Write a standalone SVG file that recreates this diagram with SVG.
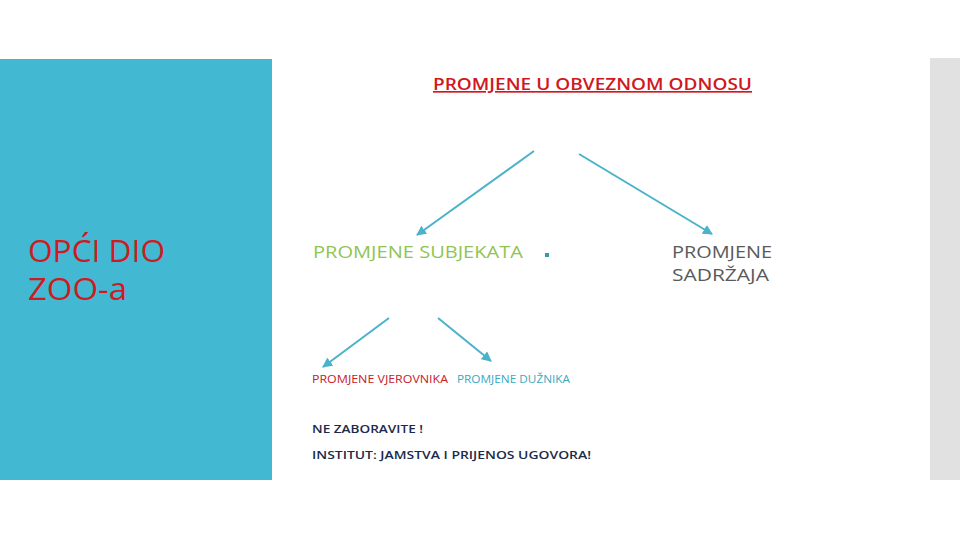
<svg xmlns="http://www.w3.org/2000/svg" width="960" height="540" viewBox="0 0 960 540">
  <defs>
    <style>
      text { font-family: "Open Sans", "Liberation Sans", sans-serif; }
      .conn { stroke: #4ab3c9; stroke-width: 2; fill: none; marker-end: url(#arrow); }
    </style>
    <marker id="arrow" viewBox="0 0 10 10" refX="9" refY="5" markerWidth="5" markerHeight="5" orient="auto" markerUnits="strokeWidth">
      <path d="M0,0 L10,5 L0,10 z" fill="#4ab3c9"/>
    </marker>
  </defs>
  <rect width="960" height="540" fill="#ffffff"/>
  <rect id="panel" x="0" y="59" width="272" height="421" fill="#42b8d2"/>
  <rect id="sidebar" x="930" y="58" width="30" height="422" fill="#e1e1e1"/>

  <g id="title-left">
    <text x="28" y="262" font-size="31" fill="#cc1c22" textLength="137" lengthAdjust="spacingAndGlyphs">OPĆI DIO</text>
    <text x="28" y="300" font-size="31" fill="#cc1c22" textLength="99" lengthAdjust="spacingAndGlyphs">ZOO-a</text>
  </g>

  <g id="node-root">
    <text x="433" y="90" font-size="16.5" font-weight="600" fill="#d0181e" text-decoration="underline" textLength="319" lengthAdjust="spacingAndGlyphs">PROMJENE U OBVEZNOM ODNOSU</text>
  </g>

  <g id="node-subjekata">
    <text x="313" y="258" font-size="16.5" font-weight="500" fill="#8fc552" textLength="210" lengthAdjust="spacingAndGlyphs">PROMJENE SUBJEKATA</text>
    <rect x="545" y="253" width="4" height="4" fill="#3a9aab"/>
  </g>

  <g id="node-sadrzaja">
    <text x="672" y="258" font-size="16.5" font-weight="500" fill="#5a5a5a" textLength="100" lengthAdjust="spacingAndGlyphs">PROMJENE</text>
    <text x="672" y="281" font-size="16.5" font-weight="500" fill="#5a5a5a" textLength="97" lengthAdjust="spacingAndGlyphs">SADRŽAJA</text>
  </g>

  <g id="node-vjerovnika">
    <text x="312" y="383" font-size="11.5" fill="#c8202a" textLength="136" lengthAdjust="spacingAndGlyphs">PROMJENE VJEROVNIKA</text>
  </g>

  <g id="node-duznika">
    <text x="457" y="383" font-size="11.5" fill="#3aa9c1" textLength="113" lengthAdjust="spacingAndGlyphs">PROMJENE DUŽNIKA</text>
  </g>

  <g id="note">
    <text x="312" y="433" font-size="11.5" font-weight="600" fill="#1b2a4a" textLength="111" lengthAdjust="spacingAndGlyphs">NE ZABORAVITE !</text>
    <text x="312" y="459" font-size="11.5" font-weight="600" fill="#1b2a4a" textLength="279" lengthAdjust="spacingAndGlyphs">INSTITUT: JAMSTVA I PRIJENOS UGOVORA!</text>
  </g>

  <g id="connectors">
    <line class="conn" x1="534" y1="151" x2="417" y2="235"/>
    <line class="conn" x1="579" y1="154" x2="712" y2="234"/>
    <line class="conn" x1="389" y1="318" x2="323" y2="367"/>
    <line class="conn" x1="438" y1="318" x2="491" y2="361"/>
  </g>
</svg>
